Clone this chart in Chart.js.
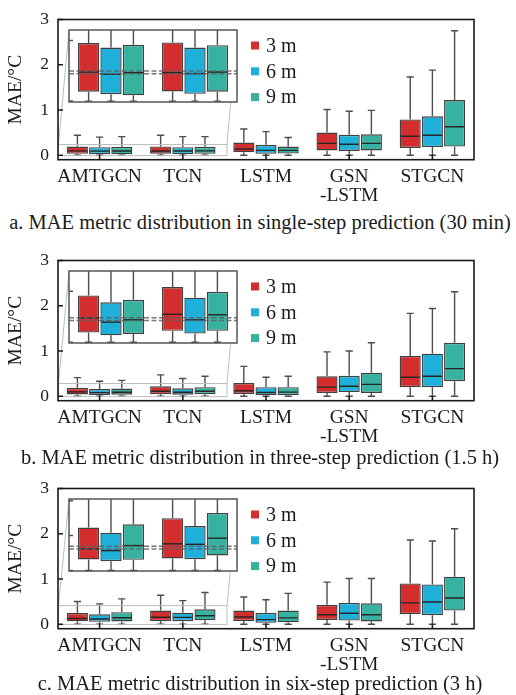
<!DOCTYPE html>
<html>
<head>
<meta charset="utf-8">
<script src="https://cdn.jsdelivr.net/npm/chart.js@4.4.1/dist/chart.umd.min.js"></script>
<style>
  html, body { margin: 0; padding: 0; background: #fff; }
  body { width: 516px; height: 695px; position: relative; overflow: hidden; font-family: "Liberation Serif", "Times New Roman", serif; }
  .panel { position: absolute; left: 0; width: 516px; }
  .panel canvas { position: absolute; }
  .caption { position: absolute; left: 0; width: 520px; text-align: center; font-size: 20.5px; line-height: 22px; color: #1a1a1a; white-space: nowrap; }
</style>
</head>
<body>
<div class="panel" id="pa" style="top:0px"><canvas id="ma"></canvas><canvas id="ia"></canvas></div>
<div class="caption" style="top:211px">a. MAE metric distribution in single-step prediction (30 min)</div>
<div class="panel" id="pb" style="top:240.6px"><canvas id="mb"></canvas><canvas id="ib"></canvas></div>
<div class="caption" style="top:446px">b. MAE metric distribution in three-step prediction (1.5 h)</div>
<div class="panel" id="pc" style="top:468.6px"><canvas id="mc"></canvas><canvas id="ic"></canvas></div>
<div class="caption" style="top:672px">c. MAE metric distribution in six-step prediction (3 h)</div>
<script>
// categorias e séries
const categories = ['AMTGCN', 'TCN', 'LSTM', ['GSN', '-LSTM'], 'STGCN'];
const seriesNames = ['3 m', '6 m', '9 m'];
const yTicks = [0, 1, 2, 3];
const insetTicks = [0, 0.2, 0.4];

// cada linha: [min, q1, mediana, q3, max] por categoria
// a. single-step (30 min)
const a3m = [[0, 0.031, 0.096, 0.192, 0.44], [0, 0.032, 0.094, 0.194, 0.44], [0, 0.063, 0.136, 0.28, 0.58], [0, 0.105, 0.26, 0.50, 1.01], [0, 0.16, 0.42, 0.79, 1.73]];
const a6m = [[0, 0.023, 0.089, 0.177, 0.40], [0, 0.024, 0.091, 0.177, 0.41], [0, 0.03, 0.106, 0.23, 0.52], [0, 0.093, 0.24, 0.45, 0.97], [0, 0.18, 0.44, 0.86, 1.88]];
const a9m = [[0, 0.019, 0.094, 0.186, 0.41], [0, 0.031, 0.096, 0.185, 0.41], [0, 0.035, 0.106, 0.19, 0.39], [0, 0.105, 0.26, 0.46, 0.99], [0, 0.19, 0.63, 1.22, 2.75]];
// b. three-step (1.5 h)
const b3m = [[0, 0.038, 0.095, 0.184, 0.41], [0, 0.045, 0.110, 0.217, 0.47], [0, 0.05, 0.12, 0.29, 0.66], [0, 0.07, 0.20, 0.44, 0.98], [0, 0.20, 0.42, 0.89, 1.83]];
const b6m = [[0, 0.027, 0.079, 0.157, 0.33], [0, 0.034, 0.088, 0.175, 0.39], [0, 0.02, 0.08, 0.20, 0.42], [0, 0.09, 0.22, 0.45, 1.00], [0, 0.20, 0.44, 0.94, 1.94]];
const b9m = [[0, 0.032, 0.088, 0.167, 0.35], [0, 0.045, 0.108, 0.198, 0.44], [0, 0.02, 0.09, 0.20, 0.44], [0, 0.07, 0.26, 0.52, 1.18], [0, 0.33, 0.61, 1.18, 2.31]];
// c. six-step (3 h)
const c3m = [[0, 0.063, 0.124, 0.246, 0.50], [0, 0.069, 0.153, 0.30, 0.64], [0, 0.07, 0.16, 0.30, 0.60], [0, 0.09, 0.21, 0.43, 0.93], [0, 0.22, 0.47, 0.90, 1.86]];
const c6m = [[0, 0.053, 0.114, 0.217, 0.45], [0, 0.065, 0.150, 0.255, 0.52], [0, 0.03, 0.10, 0.25, 0.54], [0, 0.08, 0.24, 0.47, 1.01], [0, 0.20, 0.49, 0.88, 1.84]];
const c9m = [[0, 0.061, 0.143, 0.265, 0.56], [0, 0.086, 0.185, 0.33, 0.70], [0, 0.04, 0.14, 0.30, 0.68], [0, 0.06, 0.21, 0.46, 1.01], [0, 0.30, 0.58, 1.05, 2.11]];

// faixa do zoom (inset) e linha tracejada de referência
const insetMax = [0.235, 0.28, 0.41];
const refLine = [0.095, 0.091, 0.131];

const colors = ['#d42d2d', '#1eb0d8', '#37b1a0'];
const serif = '"Liberation Serif", "Times New Roman", serif';

// geometria
const W = 516, H = 210, plotTop = 16.7, plotH = 143, plotLeft = 58, plotRight = 474;
const insetLeft = 69, insetDy = 13.4, insetW = 168, insetH = 72, insetPad = 5;

function makeDatasets(series, count) {
    return series.map((stats, s) => ({
        label: seriesNames[s],
        data: stats.slice(0, count).map(d => [d[1], d[3]]),
        stats: stats.slice(0, count),
        backgroundColor: colors[s],
        borderColor: '#404040',
        borderWidth: 1.4,
        borderSkipped: false,
        categoryPercentage: 0.8,
        barPercentage: 0.95
    }));
}

// bigodes e mediana
const boxPlugin = {
    id: 'boxWhiskers',
    afterDatasetsDraw(chart) {
        const ctx = chart.ctx, ys = chart.scales.y, a = chart.chartArea;
        ctx.save();
        ctx.beginPath();
        ctx.rect(a.left, a.top, a.right - a.left, a.bottom - a.top + 3);
        ctx.clip();
        chart.data.datasets.forEach((ds, di) => {
            chart.getDatasetMeta(di).data.forEach((bar, i) => {
                const [lo, q1, med, q3, hi] = ds.stats[i];
                const x = bar.x, half = bar.width / 2, cap = bar.width * 0.17;
                ctx.strokeStyle = '#4d4d4d';
                ctx.lineWidth = 1.4;
                ctx.beginPath();
                ctx.moveTo(x, ys.getPixelForValue(q3)); ctx.lineTo(x, ys.getPixelForValue(hi));
                ctx.moveTo(x, ys.getPixelForValue(q1)); ctx.lineTo(x, ys.getPixelForValue(lo));
                ctx.moveTo(x - cap, ys.getPixelForValue(hi)); ctx.lineTo(x + cap, ys.getPixelForValue(hi));
                ctx.moveTo(x - cap, ys.getPixelForValue(lo)); ctx.lineTo(x + cap, ys.getPixelForValue(lo));
                ctx.stroke();
                ctx.strokeStyle = '#262626';
                ctx.beginPath();
                ctx.moveTo(x - half + 1, ys.getPixelForValue(med));
                ctx.lineTo(x + half - 1, ys.getPixelForValue(med));
                ctx.stroke();
            });
        });
        ctx.restore();
    }
};

// moldura, ticks internos, legenda e retângulo do zoom
const mainDecor = {
    id: 'mainDecor',
    afterDraw(chart, args, opts) {
        const ctx = chart.ctx, a = chart.chartArea, ys = chart.scales.y, xs = chart.scales.x;
        ctx.save();
        // retângulo do zoom + linhas de ligação
        const rTop = ys.getPixelForValue(opts.zoomMax), rBot = ys.getPixelForValue(-0.01);
        const rLeft = a.left + 0.5, rRight = a.left + insetW + 1;
        ctx.strokeStyle = '#bdbdbd';
        ctx.lineWidth = 1;
        ctx.strokeRect(rLeft, rTop, rRight - rLeft, rBot - rTop);
        const iTop = plotTop + insetDy;
        ctx.beginPath();
        ctx.moveTo(insetLeft, iTop); ctx.lineTo(rLeft, rTop);
        ctx.moveTo(insetLeft + insetW, iTop); ctx.lineTo(rRight, rTop);
        ctx.stroke();
        // moldura
        ctx.strokeStyle = '#1a1a1a';
        ctx.lineWidth = 1.6;
        ctx.strokeRect(a.left, a.top, a.right - a.left, a.bottom - a.top);
        ctx.beginPath();
        yTicks.forEach(v => {
            const y = ys.getPixelForValue(v);
            ctx.moveTo(a.left, y); ctx.lineTo(a.left + 5, y);
        });
        categories.forEach((c, i) => {
            const x = xs.getPixelForValue(i);
            ctx.moveTo(x, a.bottom); ctx.lineTo(x, a.bottom - 5);
        });
        ctx.stroke();
        // legenda
        ctx.font = '20px ' + serif;
        ctx.textBaseline = 'middle';
        ctx.textAlign = 'left';
        seriesNames.forEach((name, s) => {
            const cy = a.top + 26 + s * 25.8;
            ctx.fillStyle = colors[s];
            ctx.fillRect(a.left + 193, cy - 4, 8, 8);
            ctx.fillStyle = '#1a1a1a';
            ctx.fillText(name, a.left + 208, cy + 1);
        });
        ctx.restore();
    }
};

const insetDecor = {
    id: 'insetDecor',
    beforeDraw(chart) {
        const ctx = chart.ctx, a = chart.chartArea;
        ctx.save();
        ctx.fillStyle = '#fff';
        ctx.fillRect(a.left, a.top, a.right - a.left, a.bottom - a.top);
        ctx.restore();
    },
    afterDraw(chart, args, opts) {
        const ctx = chart.ctx, a = chart.chartArea, ys = chart.scales.y;
        ctx.save();
        // linha tracejada de referência (dupla)
        const y = ys.getPixelForValue(opts.ref);
        ctx.strokeStyle = 'rgba(95,95,95,0.85)';
        ctx.lineWidth = 1.6;
        ctx.setLineDash([5, 2.5]);
        ctx.beginPath();
        ctx.moveTo(a.left, y - 1.4); ctx.lineTo(a.right, y - 1.4);
        ctx.moveTo(a.left, y + 1.4); ctx.lineTo(a.right, y + 1.4);
        ctx.stroke();
        ctx.setLineDash([]);
        ctx.strokeStyle = '#555';
        ctx.lineWidth = 1.5;
        ctx.strokeRect(a.left, a.top, a.right - a.left, a.bottom - a.top);
        ctx.beginPath();
        insetTicks.filter(v => v <= ys.max).forEach(v => {
            const ty = ys.getPixelForValue(v);
            ctx.moveTo(a.left, ty); ctx.lineTo(a.left + 4, ty);
        });
        ctx.stroke();
        ctx.restore();
    }
};

function createPanel(mainId, insetId, series, p) {
    const mc = document.getElementById(mainId);
    mc.width = W; mc.height = H;
    mc.style.left = '0px'; mc.style.top = '0px';
    new Chart(mc.getContext('2d'), {
        type: 'bar',
        data: { labels: categories, datasets: makeDatasets(series, categories.length) },
        options: {
            responsive: false,
            maintainAspectRatio: false,
            animation: false,
            layout: { padding: { top: plotTop, right: W - plotRight, left: 0, bottom: 0 } },
            scales: {
                x: {
                    grid: { display: false, drawTicks: false },
                    border: { display: false },
                    ticks: { color: '#1a1a1a', padding: 7, autoSkip: false, maxRotation: 0, minRotation: 0, font: { family: serif, size: 19.5, lineHeight: 1.0 } },
                    afterFit(scale) { scale.height = H - plotTop - plotH; }
                },
                y: {
                    min: -0.1,
                    max: 3,
                    afterBuildTicks(scale) { scale.ticks = yTicks.map(v => ({ value: v })); },
                    grid: { display: false, drawTicks: false },
                    border: { display: false },
                    ticks: { color: '#1a1a1a', padding: 9, font: { family: serif, size: 17.5 } },
                    title: { display: true, text: 'MAE/°C', color: '#1a1a1a', padding: { top: 4.5, bottom: 0 }, font: { family: serif, size: 19.5 } },
                    afterFit(scale) { scale.width = plotLeft; }
                }
            },
            plugins: {
                legend: { display: false },
                tooltip: { enabled: false },
                mainDecor: { zoomMax: insetMax[p] }
            }
        },
        plugins: [boxPlugin, mainDecor]
    });

    // zoom dos dois primeiros modelos
    const ic = document.getElementById(insetId);
    ic.width = insetW + 2 * insetPad; ic.height = insetH + 2 * insetPad;
    ic.style.left = (insetLeft - insetPad) + 'px';
    ic.style.top = (plotTop + insetDy - insetPad) + 'px';
    new Chart(ic.getContext('2d'), {
        type: 'bar',
        data: { labels: categories.slice(0, 2), datasets: makeDatasets(series, 2) },
        options: {
            responsive: false,
            maintainAspectRatio: false,
            animation: false,
            layout: { padding: insetPad },
            scales: {
                x: { display: false },
                y: { display: false, min: -0.003, max: insetMax[p] }
            },
            plugins: {
                legend: { display: false },
                tooltip: { enabled: false },
                insetDecor: { ref: refLine[p] }
            }
        },
        plugins: [boxPlugin, insetDecor]
    });
}

createPanel('ma', 'ia', [a3m, a6m, a9m], 0);
createPanel('mb', 'ib', [b3m, b6m, b9m], 1);
createPanel('mc', 'ic', [c3m, c6m, c9m], 2);
</script>
</body>
</html>
